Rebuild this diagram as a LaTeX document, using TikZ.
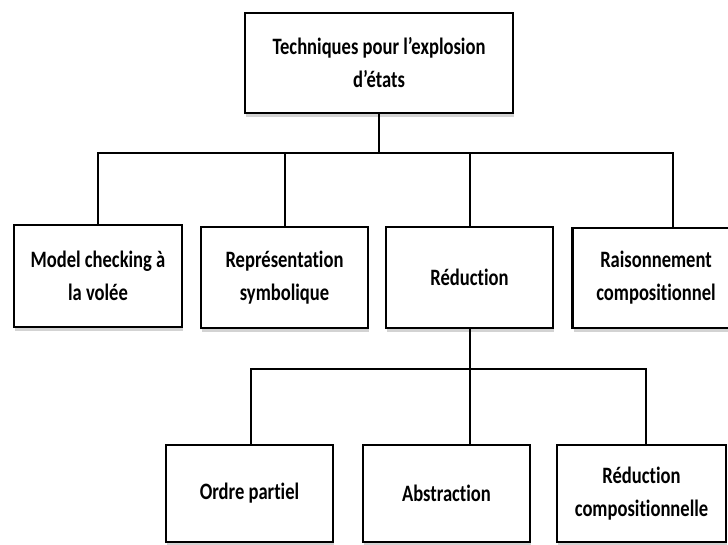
\documentclass[tikz,border=0pt]{standalone}
\usepackage{fontspec}
\setmainfont{Carlito}[FakeStretch=0.79, Ligatures={NoCommon}]
\usetikzlibrary{shadows}
\begin{document}
\begin{tikzpicture}[x=1pt,y=-1pt,
  boxnode/.style={draw=black, line width=2.2pt, fill=white, inner sep=0pt, align=center,
    font=\fontsize{23.5}{33}\selectfont\bfseries,
    drop shadow={shadow xshift=1pt, shadow yshift=-3.5pt, opacity=0.35, fill=gray}},
  link/.style={draw=black, line width=2pt}]
\useasboundingbox (0,0) rectangle (728,544);
% top
\node[boxnode, minimum width=268pt, minimum height=100pt] (top) at (379,63) {Techniques pour l’explosion\\d’états};
% level 2
\node[boxnode, minimum width=168pt, minimum height=102pt] (mc) at (98,276) {Model checking à\\la volée};
\node[boxnode, minimum width=167pt, minimum height=101pt] (rs) at (284.5,277.5) {Représentation\\symbolique};
\node[boxnode, minimum width=167pt, minimum height=101pt] (red) at (469.5,277.5) {Réduction};
\node[boxnode, minimum width=167pt, minimum height=100pt] (rc) at (656,278) {Raisonnement\\compositionnel};
% level 3
\node[boxnode, minimum width=167pt, minimum height=97pt] (op) at (249.5,493.5) {Ordre partiel};
\node[boxnode, minimum width=167pt, minimum height=97pt] (ab) at (446.5,493.5) {Abstraction};
\node[boxnode, minimum width=169pt, minimum height=97pt] (rdc) at (641.5,493.5) {Réduction\\compositionnelle};
% bus coordinates
\coordinate (b1) at (379,153);
\coordinate (b2) at (469.5,369);
% connectors level 1
\draw[link] (top.south) -- (b1);
\draw[link] (mc.north) |- (b1);
\draw[link] (rs.north) |- (b1);
\draw[link] (b1) -| (red.north);
\draw[link] (b1) -| ([xshift=17pt]rc.north);
% connectors level 2
\draw[link] (red.south) -- (red.south |- ab.north);
\draw[link] (b2) -| ([xshift=1.5pt]op.north);
\draw[link] (b2) -| ([xshift=4.5pt]rdc.north);
\end{tikzpicture}
\end{document}
